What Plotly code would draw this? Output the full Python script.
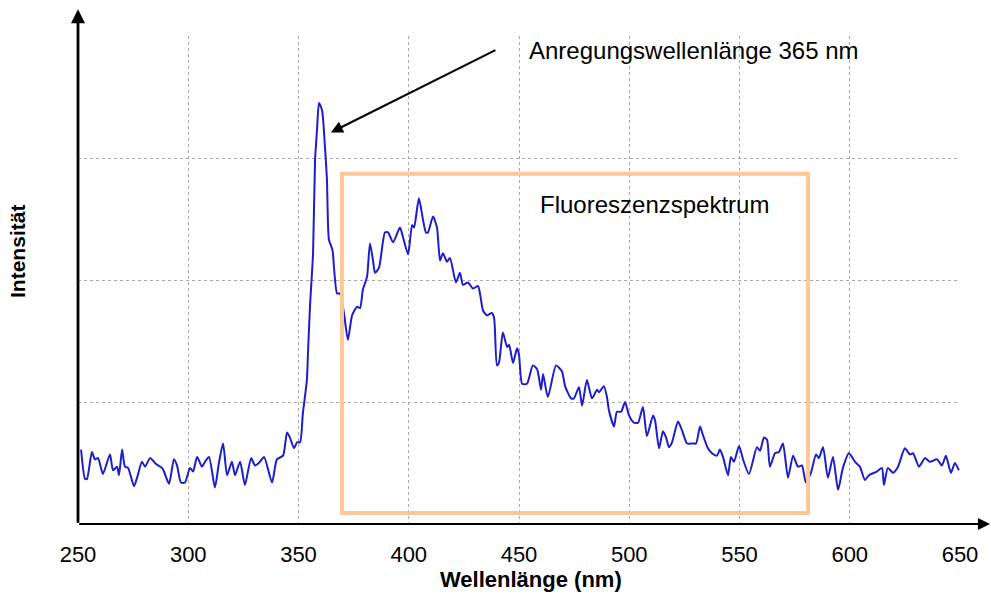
import plotly.graph_objects as go

# Emission spectrum (arbitrary intensity units) versus wavelength in nm
wavelength_nm = [
    251.4, 253.2, 254.1, 256.3, 257.7, 259.1, 261.3, 264.5, 265.9, 267.7,
    268.6, 270.0, 271.3, 272.7, 275.4, 276.8, 279.0, 280.4, 282.7, 284.9,
    286.3, 288.1, 289.0, 291.3, 293.5, 294.9, 296.7, 298.5, 300.8, 302.2,
    304.0, 306.2, 307.6, 309.4, 312.1, 313.9, 315.8, 317.6, 319.8, 321.2,
    323.5, 325.7, 328.5, 330.3, 332.5, 334.4, 338.0, 340.2, 343.0, 344.8,
    346.1, 348.0, 349.3, 350.7, 352.0, 353.8, 354.3, 355.2, 356.6, 357.5,
    358.4, 359.3, 360.7, 362.0, 362.9, 363.8, 365.2, 365.6, 367.5, 368.8,
    370.6, 372.4, 374.3, 376.5, 377.9, 379.2, 381.1, 382.4, 383.8, 384.7,
    386.5, 389.2, 390.6, 392.9, 396.0, 397.4, 399.7, 401.5, 402.4, 404.6,
    406.5, 407.8, 408.7, 411.0, 412.8, 414.2, 415.5, 417.3, 418.7, 421.4,
    423.2, 424.6, 426.9, 429.1, 431.4, 432.3, 433.7, 435.5, 437.7, 438.7,
    440.0, 440.9, 442.7, 444.6, 445.5, 447.3, 449.1, 450.0, 451.4, 453.6,
    456.3, 458.2, 460.0, 460.9, 463.1, 466.8, 469.5, 470.9, 473.6, 474.9,
    477.2, 478.6, 480.8, 483.1, 485.4, 486.3, 488.5, 489.9, 490.8, 493.1,
    494.4, 496.3, 498.1, 499.9, 502.1, 504.0, 506.2, 508.0, 510.8, 511.7,
    513.5, 515.3, 516.7, 518.0, 519.4, 522.1, 523.9, 526.2, 528.9, 530.3,
    532.1, 533.4, 535.7, 537.5, 539.8, 541.1, 542.5, 544.8, 546.1, 547.5,
    549.8, 551.6, 554.3, 557.9, 559.3, 561.1, 562.5, 563.8, 566.1, 567.9,
    569.7, 572.0, 574.3, 576.5, 578.3, 580.1, 582.4, 584.7, 586.0, 587.9,
    590.1, 592.4, 594.7, 596.9, 599.6, 602.4, 604.6, 606.9, 608.7, 612.3,
    614.6, 615.5, 617.3, 619.6, 621.9, 625.0, 627.3, 628.7, 631.4, 634.1,
    636.4, 639.6, 641.8, 643.6, 645.9, 647.7, 649.5,
]
intensity = [
    0.61, 0.37, 0.37, 0.59, 0.53, 0.54, 0.41, 0.57, 0.44, 0.47,
    0.40, 0.61, 0.47, 0.46, 0.31, 0.38, 0.51, 0.47, 0.54, 0.50,
    0.48, 0.46, 0.43, 0.33, 0.53, 0.48, 0.34, 0.34, 0.46, 0.43,
    0.55, 0.47, 0.51, 0.55, 0.30, 0.50, 0.66, 0.40, 0.51, 0.40,
    0.51, 0.32, 0.54, 0.48, 0.51, 0.55, 0.34, 0.53, 0.56, 0.75,
    0.71, 0.62, 0.67, 0.67, 0.91, 1.18, 1.40, 1.78, 2.22, 2.98,
    3.23, 3.45, 3.39, 3.09, 2.82, 2.33, 2.26, 2.22, 1.89, 1.89,
    1.73, 1.51, 1.71, 1.78, 1.77, 1.92, 2.03, 2.30, 2.16, 2.06,
    2.10, 2.39, 2.39, 2.31, 2.43, 2.35, 2.21, 2.45, 2.43, 2.67,
    2.49, 2.39, 2.39, 2.52, 2.43, 2.16, 2.22, 2.15, 2.18, 1.98,
    2.06, 1.96, 1.98, 1.93, 1.95, 1.89, 1.75, 1.71, 1.73, 1.69,
    1.30, 1.32, 1.57, 1.45, 1.47, 1.32, 1.44, 1.39, 1.15, 1.15,
    1.30, 1.27, 1.10, 1.23, 1.04, 1.30, 1.25, 1.13, 1.03, 1.03,
    1.12, 0.97, 1.18, 1.03, 1.10, 1.08, 1.13, 1.04, 0.93, 0.80,
    0.92, 0.92, 1.00, 0.89, 0.83, 0.83, 0.96, 0.72, 0.89, 0.85,
    0.62, 0.76, 0.71, 0.63, 0.67, 0.84, 0.77, 0.66, 0.66, 0.66,
    0.80, 0.73, 0.62, 0.58, 0.56, 0.61, 0.55, 0.40, 0.55, 0.51,
    0.64, 0.53, 0.41, 0.63, 0.60, 0.71, 0.69, 0.47, 0.58, 0.59,
    0.66, 0.38, 0.56, 0.47, 0.48, 0.34, 0.42, 0.57, 0.54, 0.63,
    0.38, 0.55, 0.28, 0.46, 0.58, 0.51, 0.47, 0.36, 0.40, 0.43,
    0.46, 0.32, 0.46, 0.42, 0.47, 0.62, 0.57, 0.58, 0.47, 0.54,
    0.51, 0.53, 0.48, 0.56, 0.42, 0.50, 0.44,
]

x_ticks = [250, 300, 350, 400, 450, 500, 550, 600, 650]
x_range = [250, 650]
y_range = [0, 4]
y_grid = [1, 2, 3]

# Excitation peak marker and fluorescence window
excitation_peak = (364.7, 3.21)
excitation_label_pos = (440.0, 3.89)
fluor_window_x = (369.7, 581.1)
fluor_window_y = (0.09, 2.87)

FONT = "Arial, Liberation Sans, sans-serif"

fig = go.Figure()
fig.add_trace(go.Scatter(
    x=wavelength_nm, y=intensity, mode="lines",
    line=dict(color="#1d1dcc", width=2, shape="spline", smoothing=0.6),
    hoverinfo="skip", showlegend=False,
))

fig.add_shape(
    type="rect", xref="x", yref="y",
    x0=fluor_window_x[0], x1=fluor_window_x[1],
    y0=fluor_window_y[0], y1=fluor_window_y[1],
    line=dict(color="#fdc796", width=4), layer="above",
)

annotations = [
    # excitation arrow
    dict(x=excitation_peak[0], y=excitation_peak[1], xref="x", yref="y",
         ax=excitation_label_pos[0], ay=excitation_label_pos[1], axref="x", ayref="y",
         showarrow=True, arrowhead=2, arrowsize=1.2, arrowwidth=2, arrowcolor="black",
         text=""),
    dict(x=453.6, y=3.885, xref="x", yref="y", xanchor="left", yanchor="middle",
         text="Anregungswellenlänge 365 nm", showarrow=False,
         font=dict(family=FONT, size=24, color="black")),
    dict(x=458.6, y=2.615, xref="x", yref="y", xanchor="left", yanchor="middle",
         text="Fluoreszenzspektrum", showarrow=False,
         font=dict(family=FONT, size=24, color="black")),
    # axis titles
    dict(x=455.4, y=-0.114, xref="x", yref="paper", xanchor="center", yanchor="middle",
         text="<b>Wellenlänge (nm)</b>", showarrow=False,
         font=dict(family=FONT, size=22, color="black")),
    dict(x=-0.068, y=2.23, xref="paper", yref="y", xanchor="center", yanchor="middle",
         text="<b>Intensität</b>", textangle=-90, showarrow=False,
         font=dict(family=FONT, size=21, color="black")),
    # axes with arrowheads
    dict(x=1.036, y=0, xref="paper", yref="paper", ax=-914, ay=0,
         showarrow=True, arrowhead=2, arrowsize=1.1, arrowwidth=2.2, arrowcolor="black",
         text=""),
    dict(x=0, y=1.055, xref="paper", yref="paper", ax=0, ay=515,
         showarrow=True, arrowhead=2, arrowsize=1.0, arrowwidth=2.8, arrowcolor="black",
         text=""),
]

fig.update_layout(
    width=991, height=597,
    margin=dict(l=78, r=31, t=36, b=73),
    paper_bgcolor="white", plot_bgcolor="white",
    annotations=annotations,
    xaxis=dict(
        range=x_range, tickvals=x_ticks, ticktext=[str(v) for v in x_ticks],
        showgrid=True, gridcolor="#a8a8a8", griddash="dot", gridwidth=1,
        zeroline=False, showline=False, ticks="",
        ticklabelstandoff=15,
        tickfont=dict(family=FONT, size=22, color="black"),
    ),
    yaxis=dict(
        range=y_range, tickvals=y_grid, showticklabels=False,
        showgrid=True, gridcolor="#a8a8a8", griddash="dot", gridwidth=1,
        zeroline=False, showline=False, ticks="",
    ),
)

fig.write_html("out.html")
